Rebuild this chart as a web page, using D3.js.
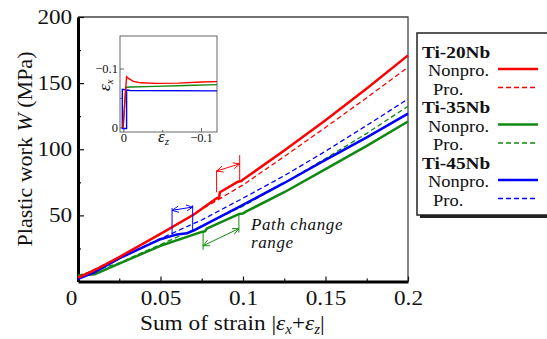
<!DOCTYPE html>
<html>
<head>
<meta charset="utf-8">
<script src="https://cdn.jsdelivr.net/npm/d3@7/dist/d3.min.js"></script>
<style>
  body { margin: 0; background: #fff; }
</style>
</head>
<body>
<div id="chart"></div>
<script>
// ---- data ----
var strainTicks = [0, 0.05, 0.1, 0.15, 0.2]
var strainMinor = [0.025, 0.075, 0.125, 0.175]
var workTicks = [50, 100, 150, 200]
var workMinor = [25, 75, 125, 175]

// [sum of strain, plastic work W]
var ti20Nonpro = [[0, 3], [0.01, 8.5], [0.025, 18.5], [0.05, 36], [0.07, 50.5], [0.084, 63], [0.0855, 63.5], [0.086, 67.5], [0.097, 75.5], [0.099, 76], [0.1005, 77.5], [0.125, 99], [0.15, 122], [0.175, 146], [0.2, 171]]
var ti20Pro = [[0, 3], [0.025, 18.5], [0.05, 36], [0.075, 54.5], [0.1, 73], [0.125, 94.5], [0.15, 116.5], [0.175, 139], [0.2, 162]]
var ti35Nonpro = [[0, 4.5], [0.01, 5.5], [0.025, 13.5], [0.05, 27], [0.075, 37.5], [0.077, 38], [0.078, 40], [0.0975, 51], [0.1, 51.5], [0.102, 53], [0.125, 67.5], [0.15, 85], [0.175, 102.5], [0.2, 121]]
var ti35Pro = [[0, 4.5], [0.025, 14], [0.05, 28], [0.075, 42], [0.1, 57], [0.125, 74.5], [0.15, 93], [0.175, 112], [0.2, 132.5]]
var ti45Nonpro = [[0, 2], [0.01, 7], [0.025, 17.5], [0.05, 32], [0.057, 34.5], [0.06, 35.5], [0.066, 36.5], [0.07, 38.5], [0.1, 58], [0.125, 74.5], [0.15, 92], [0.175, 109], [0.2, 127]]
var ti45Pro = [[0, 2], [0.025, 17.5], [0.05, 32.5], [0.075, 46.5], [0.1, 63], [0.125, 80], [0.15, 98.5], [0.175, 118], [0.2, 138]]

// path change ranges: [start strain, end strain], arrow W at each end, bracket W extents
var rangeStrain = [[0.084, 0.098], [0.0758, 0.0975], [0.057, 0.0695]]
var rangeArrowW = [[83.5, 89], [27, 40], [53.8, 56.3]]
var rangeLeftW = [[67.5, 84], [38, 24], [34, 55.5]]
var rangeRightW = [[76, 95.5], [51, 37], [38.5, 57.6]]

// inset: [eps_z, eps_x]
var insetTi20 = [[0.001, 0], [-0.002, -0.06], [-0.0035, -0.087], [-0.006, -0.084], [-0.012, -0.079], [-0.022, -0.0765], [-0.04, -0.0755], [-0.07, -0.076], [-0.1, -0.078], [-0.12, -0.0785]]
var insetTi35 = [[0.001, 0], [-0.0025, -0.069], [-0.01, -0.0695], [-0.04, -0.0705], [-0.08, -0.072], [-0.12, -0.0735]]
var insetTi45 = [[-0.0035, -0.063], [-0.0035, 0.001], [0.002, 0.001], [0.002, -0.0655], [-0.008, -0.0635], [-0.12, -0.0628]]
var insetTicks = [0, -0.1]

var alloys = ['Ti-20Nb', 'Ti-35Nb', 'Ti-45Nb']
var loadings = ['Nonpro.', 'Pro.']
var alloyColors = ['#ff0000', '#118811', '#0000ff']

// ---- layout ----
var width = 547
var height = 339
var serif = '"Liberation Serif"'

var svg = d3
  .select('#chart')
  .append('svg')
  .attr('width', width)
  .attr('height', height)

var x = d3.scaleLinear().domain([0, 0.2]).range([78, 408])
var y = d3.scaleLinear().domain([0, 200]).range([281.5, 17])

var line = d3
  .line()
  .x(d => x(d[0]))
  .y(d => y(d[1]))

// frame top / right
svg
  .append('path')
  .attr('d', `M${x(0)},${y(200)}H${x(0.2)}V${y(0)}`)
  .attr('fill', 'none')
  .attr('stroke', '#444')
  .attr('stroke-width', 1.3)

// minor ticks
svg
  .append('g')
  .attr('transform', `translate(0,${y(0)})`)
  .call(d3.axisBottom(x).tickValues(strainMinor).tickSize(-3).tickFormat('').tickSizeOuter(0))
  .call(g => g.select('.domain').remove())
svg
  .append('g')
  .attr('transform', `translate(${x(0)},0)`)
  .call(d3.axisLeft(y).tickValues(workMinor).tickSize(-3).tickFormat('').tickSizeOuter(0))
  .call(g => g.select('.domain').remove())

// major axes (the original type is a wide Times, so labels get stretched a bit)
var xAxis = svg
  .append('g')
  .attr('transform', `translate(0,${y(0)})`)
  .call(
    d3.axisBottom(x)
      .tickValues(strainTicks)
      .tickSize(-5)
      .tickSizeOuter(0)
      .tickPadding(9)
      .tickFormat(d => (d === 0 ? '0' : d3.format('')(d)))
  )
xAxis
  .selectAll('text')
  .attr('font-size', 20)
  .attr('dx', d => (d === 0 ? -6 : 0))
  .attr('transform', 'scale(1.16,1)')

var yAxis = svg
  .append('g')
  .attr('transform', `translate(${x(0)},0)`)
  .call(d3.axisLeft(y).tickValues(workTicks).tickSize(-6).tickSizeOuter(0).tickPadding(5))
yAxis.selectAll('text').attr('font-size', 20).attr('transform', 'scale(1.16,1)')

svg.selectAll('.tick line').attr('stroke', '#111').attr('stroke-width', 1.2)
svg.selectAll('.domain').attr('stroke', '#000').attr('stroke-width', 3)

// axis titles
var xTitle = svg
  .append('text')
  .attr('transform', 'translate(140,330) scale(1.06,1)')
  .attr('font-size', 22)
xTitle.append('tspan').text('Sum of strain |')
xTitle.append('tspan').attr('font-style', 'italic').text('\u03b5')
xTitle.append('tspan').attr('font-style', 'italic').attr('font-size', 14).attr('dy', 4).text('x')
xTitle.append('tspan').attr('dy', -4).text('+')
xTitle.append('tspan').attr('font-style', 'italic').text('\u03b5')
xTitle.append('tspan').attr('font-style', 'italic').attr('font-size', 14).attr('dy', 4).text('z')
xTitle.append('tspan').attr('dy', -4).text('|')

var yTitle = svg
  .append('text')
  .attr('transform', 'translate(32,149) rotate(-90)')
  .attr('text-anchor', 'middle')
  .attr('font-size', 22)
yTitle.append('tspan').text('Plastic work ')
yTitle.append('tspan').attr('font-style', 'italic').text('W')
yTitle.append('tspan').text(' (MPa)')

// ---- curves ----
var series = [
  { data: ti20Pro, color: alloyColors[0], dashed: true },
  { data: ti35Pro, color: alloyColors[1], dashed: true },
  { data: ti45Pro, color: alloyColors[2], dashed: true },
  { data: ti35Nonpro, color: alloyColors[1], dashed: false },
  { data: ti45Nonpro, color: alloyColors[2], dashed: false },
  { data: ti20Nonpro, color: alloyColors[0], dashed: false }
]

svg
  .selectAll('.curve')
  .data(series)
  .enter()
  .append('path')
  .attr('class', 'curve')
  .attr('d', d => line(d.data))
  .attr('fill', 'none')
  .attr('stroke', d => d.color)
  .attr('stroke-width', d => (d.dashed ? 1.3 : 2.5))
  .attr('stroke-dasharray', d => (d.dashed ? '5,3' : null))
  .attr('stroke-linejoin', 'round')

// ---- path change range brackets ----
var defs = svg.append('defs')
alloyColors.forEach((c, i) => {
  defs
    .append('marker')
    .attr('id', 'arrow' + i)
    .attr('viewBox', '0 0 8 8')
    .attr('refX', 7.5)
    .attr('refY', 4)
    .attr('markerWidth', 7)
    .attr('markerHeight', 7)
    .attr('markerUnits', 'userSpaceOnUse')
    .attr('orient', 'auto-start-reverse')
    .append('path')
    .attr('d', 'M0,0.5L7.5,4L0,7.5')
    .attr('fill', 'none')
    .attr('stroke', c)
    .attr('stroke-width', 1)
})

rangeStrain.forEach((r, i) => {
  var g = svg.append('g').attr('stroke', alloyColors[i]).attr('stroke-width', 1).attr('fill', 'none')
  g.append('line')
    .attr('x1', x(r[0])).attr('x2', x(r[0]))
    .attr('y1', y(rangeLeftW[i][0])).attr('y2', y(rangeLeftW[i][1]))
  g.append('line')
    .attr('x1', x(r[1])).attr('x2', x(r[1]))
    .attr('y1', y(rangeRightW[i][0])).attr('y2', y(rangeRightW[i][1]))
  g.append('line')
    .attr('x1', x(r[0])).attr('x2', x(r[1]))
    .attr('y1', y(rangeArrowW[i][0])).attr('y2', y(rangeArrowW[i][1]))
    .attr('marker-start', `url(#arrow${i})`)
    .attr('marker-end', `url(#arrow${i})`)
})

var note = svg
  .append('text')
  .attr('font-size', 17)
  .attr('font-style', 'italic')
  .attr('letter-spacing', 0.6)
note.append('tspan').attr('x', 251).attr('y', 230).text('Path change')
note.append('tspan').attr('x', 251).attr('y', 248).text('range')

// ---- inset ----
var ix = d3.scaleLinear().domain([0.005, -0.12]).range([120, 217])
var iy = d3.scaleLinear().domain([0.007, -0.156]).range([132, 36])
var iline = d3
  .line()
  .x(d => ix(d[0]))
  .y(d => iy(d[1]))

svg
  .append('rect')
  .attr('x', 120)
  .attr('y', 36)
  .attr('width', 97)
  .attr('height', 96)
  .attr('fill', '#fff')
  .attr('stroke', '#666')
  .attr('stroke-width', 1)

var ticksG = svg.append('g').attr('stroke', '#666').attr('stroke-width', 1)
insetTicks.forEach(t => {
  ticksG.append('line').attr('x1', ix(t)).attr('x2', ix(t)).attr('y1', 132).attr('y2', 128)
  ticksG.append('line').attr('x1', 120).attr('x2', 124).attr('y1', iy(t)).attr('y2', iy(t))
})
ticksG.append('line').attr('x1', ix(-0.05)).attr('x2', ix(-0.05)).attr('y1', 132).attr('y2', 130)
ticksG.append('line').attr('x1', 120).attr('x2', 122).attr('y1', iy(-0.05)).attr('y2', iy(-0.05))

svg
  .selectAll('.ixlab')
  .data(insetTicks)
  .enter()
  .append('text')
  .attr('x', d => ix(d))
  .attr('y', 142)
  .attr('text-anchor', 'middle')
  .attr('font-size', 12.5)
  .text(d => (d === 0 ? '0' : '\u22120.1'))

svg
  .selectAll('.iylab')
  .data(insetTicks)
  .enter()
  .append('text')
  .attr('x', 118)
  .attr('y', d => iy(d) + 4)
  .attr('text-anchor', 'end')
  .attr('font-size', 12.5)
  .text(d => (d === 0 ? '0' : '\u22120.1'))

var ezLab = svg.append('text').attr('x', 158).attr('y', 142).attr('font-size', 17).attr('font-style', 'italic')
ezLab.append('tspan').text('\u03b5')
ezLab.append('tspan').attr('font-size', 11).attr('dy', 3).text('z')

var exLab = svg
  .append('text')
  .attr('transform', 'translate(110,91) rotate(-90)')
  .attr('font-size', 17)
  .attr('font-style', 'italic')
exLab.append('tspan').text('\u03b5')
exLab.append('tspan').attr('font-size', 11).attr('dy', 3).text('x')

svg
  .selectAll('.icurve')
  .data([insetTi45, insetTi35, insetTi20])
  .enter()
  .append('path')
  .attr('d', d => iline(d))
  .attr('fill', 'none')
  .attr('stroke', (d, i) => alloyColors[2 - i])
  .attr('stroke-width', 1.4)

// ---- legend ----
var legend = svg.append('g')
legend.append('rect').attr('x', 420).attr('y', 36).attr('width', 140).attr('height', 182).attr('fill', '#222')
legend
  .append('rect')
  .attr('x', 417)
  .attr('y', 33)
  .attr('width', 140)
  .attr('height', 182)
  .attr('fill', '#fff')
  .attr('stroke', '#222')
  .attr('stroke-width', 1.5)

// rows are tight, so a smaller size stretched sideways keeps the widths
alloys.forEach((name, i) => {
  var base = 52 + i * 55.5
  legend
    .append('text')
    .attr('transform', `translate(422,${base + 5.5}) scale(1.17,1)`)
    .attr('font-size', 16.5)
    .attr('font-weight', 'bold')
    .text(name)
  loadings.forEach((lab, j) => {
    var cy = base + 18.5 * (j + 1)
    legend
      .append('text')
      .attr('transform', `translate(${j === 0 ? 428 : 433},${cy + 5.5}) scale(1.12,1)`)
      .attr('font-size', 16.5)
      .text(lab)
    legend
      .append('line')
      .attr('x1', 498)
      .attr('x2', 538)
      .attr('y1', cy - 1.5)
      .attr('y2', cy - 1.5)
      .attr('stroke', alloyColors[i])
      .attr('stroke-width', j === 0 ? 2.5 : 1.3)
      .attr('stroke-dasharray', j === 0 ? null : '5,3')
  })
})

// serif everywhere (axis groups carry their own sans-serif attribute)
svg.selectAll('text').style('font-family', serif).attr('fill', '#111')
</script>
</body>
</html>
